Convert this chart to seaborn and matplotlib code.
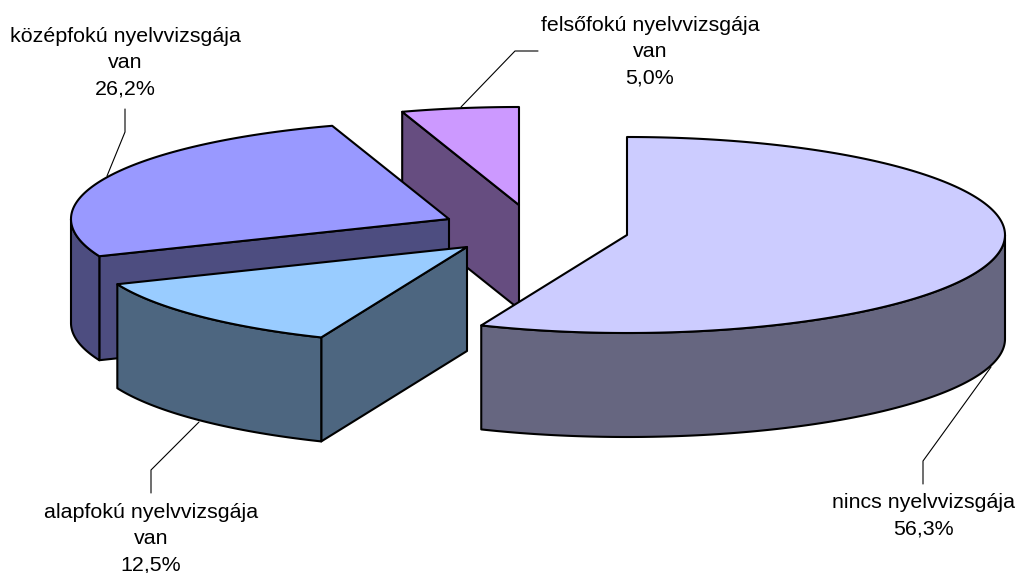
import numpy as np
import matplotlib
matplotlib.use('Agg')
import matplotlib.pyplot as plt
import seaborn as sns

labels = ['nincs nyelvvizsgája', 'alapfokú nyelvvizsgája\nvan',
          'középfokú nyelvvizsgája\nvan', 'felsőfokú nyelvvizsgája\nvan']
values = [56.3, 12.5, 26.2, 5.0]
value_text = ['56,3%', '12,5%', '26,2%', '5,0%']

sns.set_theme(style='white')
plt.rcParams['font.family'] = ['Liberation Sans', 'DejaVu Sans']

top_colors = sns.color_palette(['#CCCCFF', '#99CCFF', '#9999FF', '#CC99FF'])
side_colors = sns.color_palette(['#666680', '#4D6680', '#4D4D80', '#664D80'])

# layout in picture pixels
centers = [(627, 235), (467, 247), (449, 219), (519, 205)]
text_pos = [(923, 516), (151, 538.5), (125, 63), (650, 51.5)]
leaders = [[(991, 367), (923, 461), (923, 484)],
           [(199, 422), (151, 470), (151, 493)],
           [(107, 176), (125, 132), (125, 109)],
           [(461, 107), (515, 51), (538, 51)]]
rx, ry, depth = 378, 98, 104
draw_order = [3, 2, 0, 1]
# which slices show the wall of their first cut
first_cut = [False, True, True, True]

fig, ax = plt.subplots(figsize=(10.17, 5.73), dpi=100)
fig.subplots_adjust(0, 0, 1, 1)
ax.set_xlim(0, 1017)
ax.set_ylim(573, 0)
ax.axis('off')

ends = np.cumsum(values) / sum(values) * 2 * np.pi
starts = np.r_[0, ends[:-1]]


def rim(c, a0, a1):
    t = np.linspace(a0, a1, 200)
    return np.c_[c[0] + rx * np.sin(t), c[1] - ry * np.cos(t)]


def face(pts, color, z):
    ax.fill(pts[:, 0], pts[:, 1], fc=color, ec='black', lw=1.5, joinstyle='round', zorder=z)


z = 1
for i in draw_order:
    c = np.array(centers[i], dtype=float)
    a0, a1 = starts[i], ends[i]
    down = np.array([0, depth])

    if first_cut[i]:
        e = rim(c, a0, a0)[0]
        face(np.array([c, e, e + down, c + down]), side_colors[i], z)
        z += 1

    # outer wall, front half of the ellipse only
    w0, w1 = max(a0, np.pi / 2), min(a1, 3 * np.pi / 2)
    if w1 > w0:
        r = rim(c, w0, w1)
        face(np.vstack([r, (r + down)[::-1]]), side_colors[i], z)
        z += 1

    # top
    face(np.vstack([c, rim(c, a0, a1)]), top_colors[i], z)
    z += 1

for i, lab in enumerate(labels):
    ax.text(text_pos[i][0], text_pos[i][1], lab + '\n' + value_text[i], ha='center', va='center',
            fontsize=15.4, color='black', linespacing=1.47, zorder=z)
    pts = np.array(leaders[i])
    ax.plot(pts[:, 0], pts[:, 1], color='black', lw=0.8, zorder=z)

fig.savefig('out.png', dpi=100)
